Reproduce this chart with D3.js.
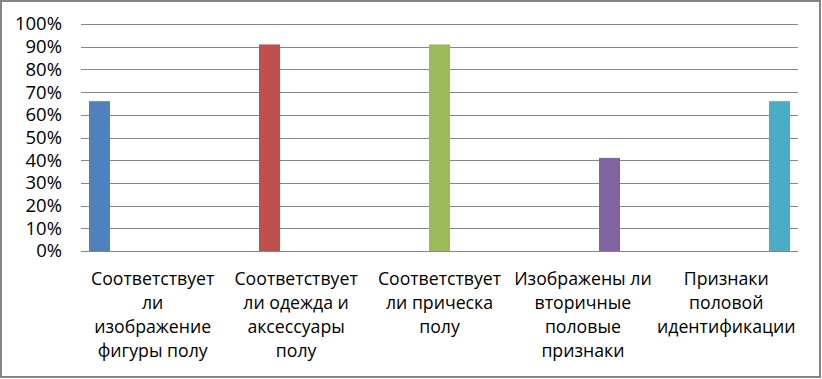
<!DOCTYPE html>
<html>
<head>
<meta charset="utf-8">
<script src="https://cdn.jsdelivr.net/npm/d3@7"></script>
<style>
  html, body { margin: 0; padding: 0; background: #fff; }
  svg { display: block; }
  text { font-family: "Open Sans", "Noto Sans", sans-serif; fill: #000; }
</style>
</head>
<body>
<div id="chart"></div>
<script>
// one series per category, each has a value only in its own category
const categories = ['c1', 'c2', 'c3', 'c4', 'c5'];
const categoryLines = [
  ['Соответствует', 'ли', 'изображение', 'фигуры полу'],
  ['Соответствует', 'ли одежда и', 'аксессуары', 'полу'],
  ['Соответствует', 'ли прическа', 'полу'],
  ['Изображены ли', 'вторичные', 'половые', 'признаки'],
  ['Признаки', 'половой', 'идентификации']
];
const seriesValues = [0.66, 0.91, 0.91, 0.41, 0.66];
const seriesColors = ['#4F81BD', '#C0504D', '#9BBB59', '#8064A2', '#4BACC6'];
const yTicks = [0, 0.1, 0.2, 0.3, 0.4, 0.5, 0.6, 0.7, 0.8, 0.9, 1];

const width = 822, height = 379;
const plot = { left: 81, right: 798, top: 24, bottom: 251 };

const svg = d3.select('#chart').append('svg')
  .attr('width', width)
  .attr('height', height);

svg.append('rect')
  .attr('x', 1).attr('y', 1)
  .attr('width', 819).attr('height', 376)
  .attr('fill', '#fff')
  .attr('stroke', '#868686')
  .attr('stroke-width', 2);

const x = d3.scaleBand()
  .domain(categories)
  .range([plot.left, plot.right])
  .padding(0);

const xInner = d3.scaleBand()
  .domain(d3.range(seriesValues.length))
  .range([0, x.bandwidth()])
  .paddingInner(0.21)
  .paddingOuter(0.3);

const y = d3.scaleLinear()
  .domain([0, 1])
  .range([plot.bottom, plot.top]);

// gridlines
svg.append('g')
  .selectAll('line')
  .data(yTicks)
  .join('line')
  .attr('x1', plot.left).attr('x2', plot.right)
  .attr('y1', d => Math.round(y(d)) + 0.5)
  .attr('y2', d => Math.round(y(d)) + 0.5)
  .attr('stroke', '#868686')
  .attr('stroke-width', 1);

// y labels
const yAxis = svg.append('g')
  .attr('transform', `translate(${plot.left}, 0)`)
  .call(d3.axisLeft(y).tickValues(yTicks).tickFormat(d3.format('.0%')).tickSize(0).tickPadding(19));
yAxis.select('.domain').remove();
yAxis.selectAll('text')
  .attr('font-size', 18.5)
  .attr('font-family', '"Open Sans", sans-serif')
  .attr('fill', '#000');

// bars
svg.append('g')
  .selectAll('rect')
  .data(seriesValues)
  .join('rect')
  .attr('x', (d, i) => x(categories[i]) + xInner(i))
  .attr('y', d => y(d))
  .attr('width', xInner.bandwidth())
  .attr('height', d => y(0) - y(d))
  .attr('fill', (d, i) => seriesColors[i]);

// x axis line
svg.append('line')
  .attr('x1', plot.left).attr('x2', plot.right)
  .attr('y1', plot.bottom + 0.5).attr('y2', plot.bottom + 0.5)
  .attr('stroke', '#868686');

// category labels
const labels = svg.append('g')
  .selectAll('text')
  .data(categories)
  .join('text')
  .attr('text-anchor', 'middle')
  .attr('font-size', 17.7)
  .attr('x', d => x(d) + x.bandwidth() / 2)
  .attr('y', 285);

labels.selectAll('tspan')
  .data((d, i) => categoryLines[i])
  .join('tspan')
  .attr('x', function () { return this.parentNode.getAttribute('x'); })
  .attr('dy', (d, i) => i === 0 ? 0 : 24)
  .text(d => d);
</script>
</body>
</html>
